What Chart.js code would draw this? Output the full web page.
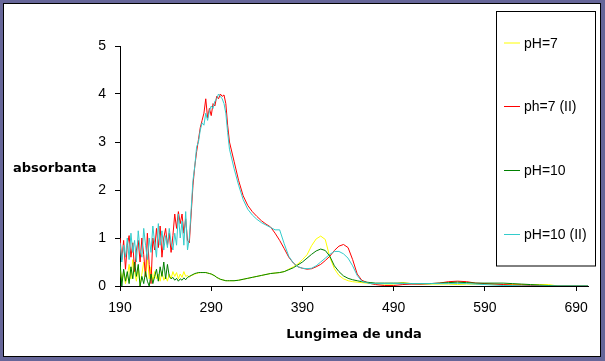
<!DOCTYPE html>
<html>
<head>
<meta charset="utf-8">
<script src="https://cdn.jsdelivr.net/npm/chart.js@4/dist/chart.umd.min.js"></script>
<style>
  html, body { margin: 0; padding: 0; background: #666699; }
  canvas { display: block; }
</style>
</head>
<body>
<canvas id="c" width="605" height="361"></canvas>
<script>
// ---- data ----
const wavelengths = [
  190,192,194,196,198,200,202,204,206,208,210,212,214,216,218,220,222,224,226,228,
  230,232,234,236,238,240,242,244,246,248,250,252,254,256,258,260,262,264,266,268,
  270,272,274,276,278,280,282,284,286,288,290,292,294,296,298,300,302,304,306,308,310,
  315,320,325,330,335,340,345,350,355,360,365,370,375,380,385,390,395,400,405,410,
  415,420,425,430,435,440,445,450,455,460,465,470,
  480,490,500,510,520,530,540,550,560,570,580,590,600,610,620,630,640,650,660,670,
  680,690,700,703
];

const seriesNames = ["pH=7", "ph=7 (II)", "pH=10", "pH=10 (II)"];
const seriesColors = ["#FFFF00", "#FF0000", "#008000", "#33CCCC"];

const pH7 = [
  0.40,0.10,0.30,0.05,0.20,0.45,0.15,0.55,0.30,0.10,0.40,0.00,0.25,0.50,0.20,0.60,0.15,0.40,0.10,0.30,
  0.15,0.25,0.10,0.30,0.12,0.20,0.10,0.25,0.15,0.30,0.20,0.28,0.15,0.25,0.18,0.30,0.20,0.22,0.18,0.22,
  0.23,0.25,0.26,0.27,0.28,0.28,0.28,0.28,0.27,0.26,0.25,0.23,0.21,0.18,0.16,0.14,0.13,0.12,0.11,0.11,0.11,
  0.11,0.12,0.14,0.16,0.18,0.20,0.22,0.24,0.26,0.27,0.28,0.30,0.35,0.40,0.46,0.55,0.65,0.84,0.98,1.04,
  0.97,0.60,0.36,0.22,0.15,0.11,0.09,0.08,0.07,0.06,0.05,0.05,
  0.04,0.04,0.07,0.05,0.04,0.04,0.04,0.04,0.03,0.04,0.04,0.04,0.03,0.03,0.03,0.03,0.03,0.03,0.03,0.00,
  0.00,0.00,0.00,0.00
];

const pH7II = [
  1.00,0.55,0.95,0.35,0.85,1.05,0.60,0.90,0.30,0.75,0.95,0.50,1.00,0.65,0.20,1.10,0.45,0.05,1.00,0.75,
  1.20,0.80,1.25,0.60,1.00,1.20,0.85,1.10,0.70,1.05,1.50,1.20,1.55,1.30,1.50,1.10,1.40,0.95,0.90,1.50,
  2.10,2.50,2.80,3.05,3.30,3.45,3.60,3.90,3.50,3.70,3.55,3.80,3.75,3.95,3.90,4.00,3.95,3.98,3.80,3.35,3.00,
  2.60,2.20,1.88,1.68,1.55,1.45,1.36,1.29,1.23,1.10,0.95,0.78,0.60,0.48,0.40,0.37,0.35,0.36,0.40,0.45,
  0.53,0.62,0.74,0.83,0.865,0.80,0.55,0.25,0.12,0.08,0.05,0.03,
  0.01,0.01,0.03,0.04,0.04,0.05,0.06,0.09,0.10,0.09,0.06,0.05,0.04,0.03,0.02,0.02,0.01,0.01,0.00,0.00,
  0.00,0.00,0.00,0.00
];

const pH10 = [
  0.50,0.00,0.35,0.10,0.30,0.05,0.40,0.15,0.50,0.20,0.45,0.00,0.20,0.05,0.30,0.10,0.00,0.25,0.05,0.20,
  0.35,0.10,0.40,0.20,0.50,0.15,0.45,0.20,0.15,0.18,0.12,0.16,0.10,0.15,0.12,0.17,0.13,0.18,0.20,0.22,
  0.24,0.26,0.27,0.28,0.28,0.28,0.28,0.28,0.27,0.26,0.25,0.23,0.21,0.18,0.16,0.14,0.13,0.12,0.11,0.11,0.11,
  0.11,0.12,0.14,0.16,0.18,0.20,0.22,0.24,0.26,0.27,0.28,0.30,0.34,0.38,0.44,0.50,0.58,0.66,0.73,0.77,
  0.74,0.62,0.42,0.30,0.21,0.16,0.13,0.11,0.09,0.08,0.07,0.06,
  0.06,0.06,0.06,0.05,0.05,0.05,0.06,0.07,0.08,0.07,0.06,0.06,0.06,0.06,0.05,0.04,0.03,0.02,0.01,0.00,
  0.00,0.00,0.00,0.00
];

const pH10II = [
  0.90,0.50,0.85,0.60,1.00,0.55,1.10,0.70,0.95,0.50,1.15,0.75,0.60,1.20,0.85,0.55,1.00,0.70,1.25,0.90,
  0.60,1.30,0.85,1.15,0.75,1.05,0.80,1.20,0.90,0.75,1.10,0.85,1.50,1.00,1.35,0.85,1.55,0.75,1.00,1.60,
  2.20,2.50,2.90,3.00,3.25,3.40,3.35,3.60,3.45,3.65,3.75,3.70,3.85,3.90,4.00,3.95,3.90,3.80,3.60,3.20,2.85,
  2.45,2.10,1.80,1.60,1.48,1.39,1.32,1.27,1.22,1.17,1.17,0.88,0.62,0.48,0.40,0.37,0.36,0.37,0.42,0.50,
  0.58,0.66,0.72,0.72,0.67,0.58,0.42,0.22,0.10,0.07,0.05,0.05,
  0.05,0.05,0.05,0.05,0.05,0.05,0.05,0.05,0.05,0.05,0.04,0.03,0.02,0.01,0.01,0.00,0.00,0.00,0.00,0.00,
  0.00,0.00,0.00,0.00
];

const xTickValues = [190, 290, 390, 490, 590, 690];
const yTickValues = [0, 1, 2, 3, 4, 5];
const xTitle = "Lungimea de unda";
const yTitle = "absorbanta";

// ---- build ----
const seriesValues = [pH7, pH7II, pH10, pH10II];
const datasets = seriesValues.map((vals, i) => ({
  label: seriesNames[i],
  data: wavelengths.map((w, k) => ({ x: w, y: vals[k] })),
  borderColor: seriesColors[i],
  backgroundColor: seriesColors[i],
  borderWidth: 1,
  pointRadius: 0,
  tension: 0,
  fill: false,
  order: 4 - i
}));

const framePlugin = {
  id: 'frame',
  beforeDraw(chart) {
    const ctx = chart.ctx;
    ctx.save();
    ctx.fillStyle = '#666699';
    ctx.fillRect(0, 0, 605, 361);
    ctx.fillStyle = '#000000';
    ctx.fillRect(3, 3, 598, 354);
    ctx.fillStyle = '#FFFFFF';
    ctx.fillRect(4, 4, 596, 352);
    ctx.restore();
  }
};

const yTitlePlugin = {
  id: 'yTitleH',
  afterDraw(chart) {
    const ctx = chart.ctx;
    ctx.save();
    ctx.font = 'bold 13px "DejaVu Sans"';
    ctx.fillStyle = '#000';
    ctx.textAlign = 'left';
    ctx.textBaseline = 'alphabetic';
    ctx.fillText(yTitle, 13, 172);
    ctx.restore();
  }
};

const legendPlugin = {
  id: 'boxLegend',
  afterDraw(chart) {
    const ctx = chart.ctx;
    ctx.save();
    ctx.fillStyle = '#FFFFFF';
    ctx.fillRect(496.5, 11.5, 99, 254.5);
    ctx.strokeStyle = '#000';
    ctx.lineWidth = 1;
    ctx.strokeRect(496.5, 11.5, 99, 254.5);
    const ys = [43, 106.5, 170.5, 234.5];
    ctx.font = '14px "Liberation Sans", Arial, sans-serif';
    ctx.textAlign = 'left';
    ctx.textBaseline = 'middle';
    seriesNames.forEach((name, i) => {
      ctx.strokeStyle = seriesColors[i];
      ctx.beginPath();
      ctx.moveTo(504, ys[i]);
      ctx.lineTo(520, ys[i]);
      ctx.stroke();
      ctx.fillStyle = '#000';
      ctx.fillText(name, 524, ys[i] + 1);
    });
    ctx.restore();
  }
};

new Chart(document.getElementById('c'), {
  type: 'line',
  data: { datasets },
  plugins: [framePlugin, yTitlePlugin, legendPlugin],
  options: {
    responsive: false,
    animation: false,
    devicePixelRatio: 1,
    layout: { padding: { top: 46, right: 17, left: 0, bottom: 0 } },
    plugins: { legend: { display: false }, tooltip: { enabled: false } },
    scales: {
      x: {
        type: 'linear',
        min: 190,
        max: 703,
        afterBuildTicks(scale) { scale.ticks = xTickValues.map(v => ({ value: v })); },
        afterFit(scale) { scale.height = 75; },
        grid: { drawOnChartArea: false, drawTicks: true, tickLength: 5, color: '#000' },
        border: { display: true, color: '#000', width: 1 },
        ticks: {
          color: '#000',
          padding: 9,
          maxRotation: 0,
          autoSkip: false,
          font: { family: '"Liberation Sans", Arial, sans-serif', size: 14 },
          callback: v => String(v)
        },
        title: {
          display: true,
          text: xTitle,
          color: '#000',
          font: { family: '"DejaVu Sans"', size: 13, weight: 'bold' },
          padding: { top: 0, bottom: 19 }
        }
      },
      y: {
        type: 'linear',
        min: 0,
        max: 5,
        afterBuildTicks(scale) { scale.ticks = yTickValues.map(v => ({ value: v })); },
        afterFit(scale) { scale.width = 120; },
        grid: { drawOnChartArea: false, drawTicks: true, tickLength: 5, color: '#000' },
        border: { display: true, color: '#000', width: 1 },
        ticks: {
          color: '#000',
          padding: 9,
          font: { family: '"Liberation Sans", Arial, sans-serif', size: 14 },
          callback: v => String(v)
        }
      }
    }
  }
});
</script>
</body>
</html>
